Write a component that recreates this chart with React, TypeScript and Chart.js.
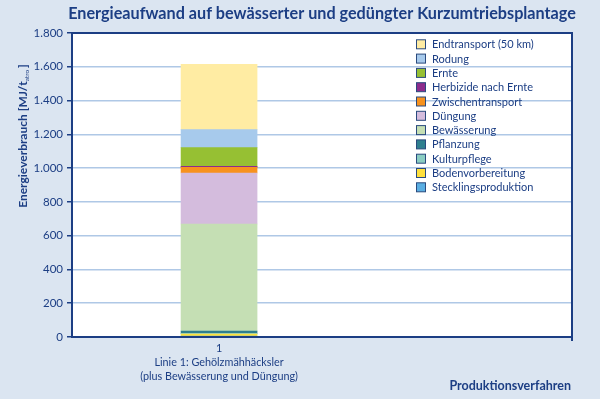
import React, { useEffect, useRef } from 'react';
import { Chart, registerables } from 'chart.js';

Chart.register(...registerables);

const categoryValues = [1];
const categoryLines = ['1', 'Linie 1: Gehölzmähhäcksler', '(plus Bewässerung und Düngung)'];
const seriesNames = [
  'Stecklingsproduktion',
  'Bodenvorbereitung',
  'Kulturpflege',
  'Pflanzung',
  'Bewässerung',
  'Düngung',
  'Zwischentransport',
  'Herbizide nach Ernte',
  'Ernte',
  'Rodung',
  'Endtransport (50 km)',
];
const seriesValues = [6, 12, 3, 14, 634, 302, 33, 6, 111, 107, 386];
const seriesColors = [
  '#5AAEE2',
  '#FFE03C',
  '#8ACDC2',
  '#2F7F8E',
  '#C5DFB4',
  '#D4BCDD',
  '#F7921E',
  '#8C2C8C',
  '#96C033',
  '#A7CAEC',
  '#FFECA3',
];
const yTickValues = [0, 200, 400, 600, 800, 1000, 1200, 1400, 1600, 1800];

const TITLE = 'Energieaufwand auf bewässerter und gedüngter Kurzumtriebsplantage';
const Y_TITLE_MAIN = 'Energieverbrauch [MJ/t';
const Y_TITLE_SUB = 'atro';
const Y_TITLE_END = ']';
const X_TITLE = 'Produktionsverfahren';

const DARK = '#1C3E84';
const BG = '#DBE5F1';
const GRID = '#AFC8E6';
const FONT = 'Lato, "Open Sans", sans-serif';

const fmt = (v: number) => v.toLocaleString('de-DE');

export default function App() {
  const ref = useRef<HTMLCanvasElement | null>(null);

  useEffect(() => {
    const canvas = ref.current;
    if (!canvas) return;

    const decor = {
      id: 'decor',
      beforeDraw(chart: any) {
        const { ctx, chartArea: a } = chart;
        ctx.save();
        ctx.fillStyle = BG;
        ctx.fillRect(0, 0, chart.width, chart.height);
        ctx.fillStyle = '#FFFFFF';
        ctx.fillRect(a.left, a.top, a.right - a.left, a.bottom - a.top);
        ctx.restore();
      },
      afterDraw(chart: any) {
        const { ctx, chartArea: a } = chart;
        ctx.save();
        // frame
        ctx.strokeStyle = DARK;
        ctx.lineWidth = 2;
        ctx.beginPath();
        ctx.moveTo(a.left, a.top);
        ctx.lineTo(a.right, a.top);
        ctx.lineTo(a.right, a.bottom + 4);
        ctx.moveTo(a.left, a.bottom);
        ctx.lineTo(a.right, a.bottom);
        ctx.stroke();

        // title
        ctx.fillStyle = DARK;
        ctx.font = `bold 16.2px ${FONT}`;
        ctx.textAlign = 'center';
        ctx.textBaseline = 'middle';
        ctx.fillText(TITLE, 322, 14);

        // x title
        ctx.font = `bold 12.5px ${FONT}`;
        ctx.textAlign = 'right';
        ctx.fillText(X_TITLE, 571, 386);

        // y title with subscript
        ctx.translate(23, 136);
        ctx.rotate(-Math.PI / 2);
        const mainFont = `bold 12px ${FONT}`;
        const subFont = `6.5px ${FONT}`;
        ctx.font = mainFont;
        const w1 = ctx.measureText(Y_TITLE_MAIN).width;
        const w3 = ctx.measureText(Y_TITLE_END).width;
        ctx.font = subFont;
        const w2 = ctx.measureText(Y_TITLE_SUB).width;
        const total = w1 + w2 + 2 + w3;
        let x = -total / 2;
        ctx.textAlign = 'left';
        ctx.textBaseline = 'middle';
        ctx.font = mainFont;
        ctx.fillText(Y_TITLE_MAIN, x, 0);
        x += w1;
        ctx.font = subFont;
        ctx.fillText(Y_TITLE_SUB, x, 4);
        x += w2 + 2;
        ctx.font = mainFont;
        ctx.fillText(Y_TITLE_END, x, 0);
        ctx.setTransform(1, 0, 0, 1, 0, 0);

        // legend (reverse order, top of stack first)
        const ds = chart.data.datasets;
        ctx.font = `11px ${FONT}`;
        ctx.textAlign = 'left';
        ctx.textBaseline = 'middle';
        for (let i = 0; i < ds.length; i++) {
          const d = ds[ds.length - 1 - i];
          const cy = 44.3 + i * 14.3;
          ctx.fillStyle = d.backgroundColor;
          ctx.fillRect(416.5, cy - 4.5, 9, 9);
          ctx.strokeStyle = '#2A4A7E';
          ctx.lineWidth = 1;
          ctx.strokeRect(416.5, cy - 4.5, 9, 9);
          ctx.fillStyle = DARK;
          ctx.fillText(d.label, 432, cy + 0.5);
        }
        ctx.restore();
      },
    };

    const chart = new Chart(canvas, {
      type: 'bar',
      data: {
        datasets: seriesNames.map((name, i) => ({
          label: name,
          data: categoryValues.map((c) => ({ x: c, y: seriesValues[i] })),
          backgroundColor: seriesColors[i],
          borderWidth: 0,
          barThickness: 76,
        })),
      },
      options: {
        animation: false,
        responsive: false,
        maintainAspectRatio: false,
        layout: { padding: { top: 33, right: 28, left: 0, bottom: 0 } },
        plugins: {
          legend: { display: false },
          title: { display: false },
          tooltip: { enabled: false },
        },
        scales: {
          x: {
            type: 'linear',
            stacked: true,
            offset: false,
            min: 0.5,
            max: 2.2,
            afterBuildTicks: (scale: any) => {
              scale.ticks = categoryValues.map((v) => ({ value: v }));
            },
            afterFit: (scale: any) => {
              scale.height = 62;
            },
            grid: { display: false, drawTicks: false },
            border: { color: DARK, width: 2 },
            ticks: {
              callback: () => categoryLines,
              color: DARK,
              font: { family: FONT, size: 10.8, lineHeight: 1.27 },
              padding: 5,
              maxRotation: 0,
              autoSkip: false,
            },
          },
          y: {
            stacked: true,
            min: 0,
            max: 1800,
            afterBuildTicks: (scale: any) => {
              scale.ticks = yTickValues.map((v) => ({ value: v }));
            },
            afterFit: (scale: any) => {
              scale.width = 72;
            },
            grid: { color: GRID, lineWidth: 1.5, tickColor: DARK, tickLength: 5, drawTicks: true },
            border: { color: DARK, width: 2 },
            ticks: {
              callback: (v: any) => fmt(Number(v)),
              color: DARK,
              font: { family: FONT, size: 11.5 },
              padding: 4,
            },
          },
        },
      },
      plugins: [decor],
    } as any);

    return () => chart.destroy();
  }, []);

  return (
    <div style={{ position: 'fixed', left: 0, top: 0, width: 600, height: 399 }}>
      <canvas ref={ref} width={600} height={399} style={{ display: 'block', width: 600, height: 399 }} />
    </div>
  );
}
